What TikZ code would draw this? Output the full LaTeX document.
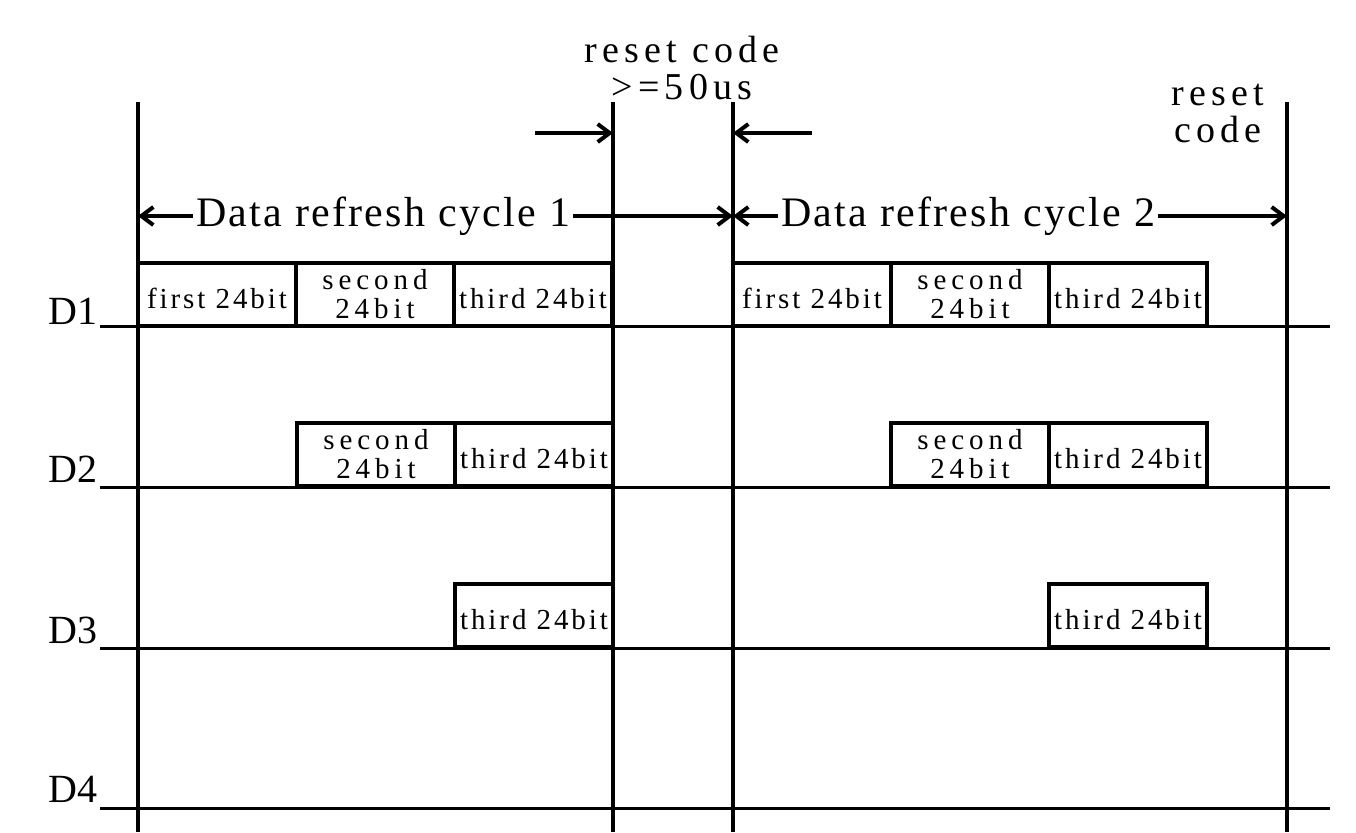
\documentclass[tikz,border=0pt]{standalone}
\usepackage{fontspec}
\setmainfont{Liberation Serif}
\newfontfamily\bitfont[LetterSpace=10]{Liberation Serif}
\newfontfamily\secfont[LetterSpace=17]{Liberation Serif}
\newfontfamily\cyclefont[LetterSpace=5.5]{Liberation Serif}
\newfontfamily\resetfont[LetterSpace=14]{Liberation Serif}
\usetikzlibrary{arrows.meta, positioning}

\begin{document}
\begin{tikzpicture}[x=0.5pt, y=-0.5pt,
    sigline/.style={line width=1.5pt},
    edgeline/.style={line width=2pt},
    bitbox/.style={draw, line width=2pt, anchor=north west, outer sep=0pt, inner sep=0pt,
      minimum width=79pt, minimum height=31.5pt, text height=13.5pt, text depth=0pt,
      font=\bitfont\fontsize{14.5}{15}\selectfont},
    secbox/.style={bitbox, align=center, text height=, text depth=,
      font=\secfont\fontsize{14.5}{14.5}\selectfont},
    spanarrow/.style={line width=2pt, -{Straight Barb[length=6pt,width=9pt]}},
    chlabel/.style={anchor=base east, inner sep=0pt, font=\fontsize{20}{24}\selectfont},
    cyclelabel/.style={inner sep=1.5pt, font=\cyclefont\fontsize{21}{24}\selectfont},
    resetlabel/.style={anchor=base, align=center, inner sep=0pt,
      font=\resetfont\fontsize{19}{18.5}\selectfont}]
    \useasboundingbox (0,0) rectangle (1356,832);

    % Cycle edges
    \coordinate (t1) at (138,102);  \coordinate (e1) at (138,832);
    \coordinate (t2) at (613,102);  \coordinate (e2) at (613,832);
    \coordinate (t3) at (733,102);  \coordinate (e3) at (733,832);
    \coordinate (t4) at (1287,102); \coordinate (e4) at (1287,832);

    % Data boxes, cycle 1
    \node[bitbox] (a11) at (138,263) {first 24bit};
    \node[secbox, right=0pt of a11] (a12) {second\\24bit};
    \node[bitbox, right=0pt of a12] (a13) {third 24bit};
    \node[secbox] (a22) at (297,423) {second\\24bit};
    \node[bitbox, right=0pt of a22] (a23) {third 24bit};
    \node[bitbox] (a33) at (455,584) {third 24bit};

    % Data boxes, cycle 2
    \node[bitbox] (b11) at (733,263) {first 24bit};
    \node[secbox, right=0pt of b11] (b12) {second\\24bit};
    \node[bitbox, right=0pt of b12] (b13) {third 24bit};
    \node[secbox] (b22) at (891,423) {second\\24bit};
    \node[bitbox, right=0pt of b22] (b23) {third 24bit};
    \node[bitbox] (b33) at (1049,584) {third 24bit};

    % Channel lines
    \coordinate (d1a) at (100,326); \coordinate (d1b) at (1330,326);
    \coordinate (d2a) at (100,487); \coordinate (d2b) at (1330,487);
    \coordinate (d3a) at (100,648); \coordinate (d3b) at (1330,648);
    \coordinate (d4a) at (100,808); \coordinate (d4b) at (1330,808);
    \draw[sigline] (d1a) -- (d1b);
    \draw[sigline] (d2a) -- (d2b);
    \draw[sigline] (d3a) -- (d3b);
    \draw[sigline] (d4a) -- (d4b);
    \node[chlabel] (ch1) at (98,324) {D1};
    \node[chlabel] (ch2) at (98,482) {D2};
    \node[chlabel] (ch3) at (98,643) {D3};
    \node[chlabel] (ch4) at (98,802) {D4};

    \draw[edgeline] (t1) -- (e1);
    \draw[edgeline] (t2) -- (e2);
    \draw[edgeline] (t3) -- (e3);
    \draw[edgeline] (t4) -- (e4);

    % Refresh cycles
    \node[cyclelabel] (cyc1) at (383,216) {Data refresh cycle 1};
    \draw[spanarrow] (cyc1.west) -- (t1 |- cyc1);
    \draw[spanarrow] (cyc1.east) -- (t3 |- cyc1);
    \node[cyclelabel] (cyc2) at (968,216) {Data refresh cycle 2};
    \draw[spanarrow] (cyc2.west) -- (t3 |- cyc2);
    \draw[spanarrow] (cyc2.east) -- (t4 |- cyc2);

    % Reset codes
    \coordinate (r1) at (535,133);
    \coordinate (r2) at (812,133);
    \draw[spanarrow] (r1) -- (t2 |- r1);
    \draw[spanarrow] (r2) -- (t3 |- r2);
    \node[resetlabel] (rst1) at (682,99) {reset code\\>=50us};
    \node[resetlabel] (rst2) at (1218,142) {reset\\code};
\end{tikzpicture}
\end{document}
